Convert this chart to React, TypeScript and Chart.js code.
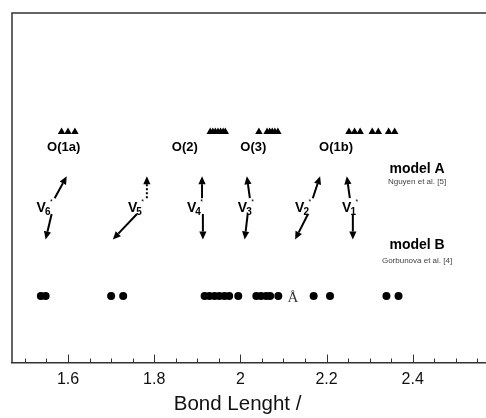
import React, { useEffect, useRef } from "react";
import { Chart, registerables } from "chart.js";

Chart.register(...registerables);

// ---- data ----
// model A (Nguyen et al.) bond lengths, drawn as triangles
const modelA = [
  1.585, 1.6, 1.616,
  1.93, 1.936, 1.942, 1.948, 1.954, 1.96, 1.965,
  2.043, 2.062, 2.068, 2.074, 2.08, 2.087,
  2.252, 2.265, 2.278, 2.306, 2.32, 2.344, 2.358,
];
// model B (Gorbunova et al.) bond lengths, drawn as dots
const modelB = [
  1.537, 1.548,
  1.7, 1.728,
  1.917, 1.928, 1.94, 1.951, 1.963, 1.974, 1.995,
  2.037, 2.048, 2.06, 2.069, 2.088,
  2.17, 2.208,
  2.339, 2.367,
];
const levelA = 66;
const levelB = 19;

const xMin = 1.47;
const xMax = 2.57;
const tickFirst = 1.5;
const tickLast = 2.55;
const minorStep = 0.05;

// oxygen site labels
const siteLabels = ["O(1a)", "O(2)", "O(3)", "O(1b)"];
const siteLabelX = [1.59, 1.871, 2.03, 2.222];
const siteLabelY = 61.6;

// V* labels
const vSubs = ["6", "5", "4", "3", "2", "1"];
const vLabelX = [1.527, 1.739, 1.876, 1.994, 2.127, 2.236];
const vLabelY = 44.1;

// arrows pointing towards model A
const upTailX = [1.569, 1.783, 1.911, 2.022, 2.168, 2.254];
const upHeadX = [1.597, 1.783, 1.911, 2.015, 2.185, 2.247];
const upDashed = [false, true, false, false, false, false];
const upTailY = 47.0;
const upHeadY = 53.3;

// arrows pointing towards model B
const downTailX = [1.562, 1.76, 1.913, 2.017, 2.157, 2.261];
const downHeadX = [1.548, 1.704, 1.913, 2.01, 2.127, 2.261];
const downTailY = 42.5;
const downHeadY = 35.2;

// model captions
const modelTexts = ["model A", "Nguyen et al. [5]", "model B", "Gorbunova et al. [4]"];
const modelTextBold = [true, false, true, false];
const modelTextX = 2.41;
const modelTextY = [55.3, 51.6, 33.5, 29.2];

const angstrom = "Å";
const angstromX = 2.122;
const angstromY = 18.3;

const SANS = '"Liberation Sans", Arial, sans-serif';
const SERIF = '"Liberation Serif", "Times New Roman", serif';

function isMult(v: number, step: number) {
  const r = v / step;
  return Math.abs(r - Math.round(r)) < 1e-6;
}

function drawArrow(ctx: CanvasRenderingContext2D, x1: number, y1: number, x2: number, y2: number, dashed: boolean) {
  const ang = Math.atan2(y2 - y1, x2 - x1);
  const hl = 8;
  const hw = 3.6;
  const bx = x2 - hl * Math.cos(ang);
  const by = y2 - hl * Math.sin(ang);
  ctx.save();
  ctx.strokeStyle = "#000";
  ctx.fillStyle = "#000";
  ctx.lineWidth = 2;
  if (dashed) ctx.setLineDash([2, 2]);
  ctx.beginPath();
  ctx.moveTo(x1, y1);
  ctx.lineTo(bx, by);
  ctx.stroke();
  ctx.setLineDash([]);
  ctx.beginPath();
  ctx.moveTo(x2, y2);
  ctx.lineTo(bx + hw * Math.sin(ang), by - hw * Math.cos(ang));
  ctx.lineTo(bx - hw * Math.sin(ang), by + hw * Math.cos(ang));
  ctx.closePath();
  ctx.fill();
  ctx.restore();
}

const annotPlugin = {
  id: "annot",
  afterDatasetsDraw(chart: any) {
    const { ctx, chartArea } = chart;
    const xs = chart.scales.x;
    const ys = chart.scales.y;
    ctx.save();
    // frame (left and top)
    ctx.strokeStyle = "#333";
    ctx.lineWidth = 1.5;
    ctx.beginPath();
    ctx.moveTo(chartArea.left, chartArea.bottom);
    ctx.lineTo(chartArea.left, chartArea.top);
    ctx.lineTo(chart.width, chartArea.top);
    ctx.stroke();
    // inward ticks
    ctx.lineWidth = 1;
    ctx.strokeStyle = "#333";
    xs.ticks.forEach((t: any) => {
      const v = t.value;
      if (!isMult(v, minorStep)) return;
      const px = Math.round(xs.getPixelForValue(v)) + 0.5;
      const len = isMult(v, 0.2) ? 8 : 4;
      ctx.beginPath();
      ctx.moveTo(px, chartArea.bottom);
      ctx.lineTo(px, chartArea.bottom - len);
      ctx.stroke();
    });

    ctx.fillStyle = "#000";
    ctx.textBaseline = "middle";
    // site labels
    ctx.font = `bold 13px ${SANS}`;
    ctx.textAlign = "center";
    siteLabels.forEach((s, i) => {
      ctx.fillText(s, xs.getPixelForValue(siteLabelX[i]), ys.getPixelForValue(siteLabelY));
    });
    // model captions
    modelTexts.forEach((s, i) => {
      ctx.font = modelTextBold[i] ? `bold 14px ${SANS}` : `8px ${SANS}`;
      ctx.fillStyle = modelTextBold[i] ? "#000" : "#444";
      ctx.fillText(s, xs.getPixelForValue(modelTextX), ys.getPixelForValue(modelTextY[i]));
    });
    // V labels
    ctx.fillStyle = "#000";
    ctx.textAlign = "left";
    vSubs.forEach((sub, i) => {
      const px = xs.getPixelForValue(vLabelX[i]);
      const py = ys.getPixelForValue(vLabelY);
      ctx.font = `bold 14px ${SANS}`;
      ctx.fillText("V", px, py);
      const w = ctx.measureText("V").width;
      ctx.font = `bold 10px ${SANS}`;
      ctx.fillText(sub, px + w - 1, py + 4);
      ctx.font = `7px ${SANS}`;
      ctx.fillText("*", px + w + 4, py - 6);
    });
    // arrows
    upTailX.forEach((_, i) => {
      drawArrow(
        ctx,
        xs.getPixelForValue(upTailX[i]), ys.getPixelForValue(upTailY),
        xs.getPixelForValue(upHeadX[i]), ys.getPixelForValue(upHeadY),
        upDashed[i]
      );
    });
    downTailX.forEach((_, i) => {
      drawArrow(
        ctx,
        xs.getPixelForValue(downTailX[i]), ys.getPixelForValue(downTailY),
        xs.getPixelForValue(downHeadX[i]), ys.getPixelForValue(downHeadY),
        false
      );
    });
    // stray angstrom sign
    ctx.font = `15px ${SERIF}`;
    ctx.fillStyle = "#333";
    ctx.textAlign = "center";
    ctx.fillText(angstrom, xs.getPixelForValue(angstromX), ys.getPixelForValue(angstromY));
    ctx.restore();
  },
};

export default function App() {
  const ref = useRef<HTMLCanvasElement | null>(null);
  useEffect(() => {
    if (!ref.current) return;
    const chart = new Chart(ref.current, {
      type: "scatter",
      data: {
        datasets: [
          {
            label: "model A",
            data: modelA.map((v) => ({ x: v, y: levelA })),
            pointStyle: "triangle",
            pointRadius: 4.3,
            borderWidth: 0,
            backgroundColor: "#000",
            borderColor: "#000",
          },
          {
            label: "model B",
            data: modelB.map((v) => ({ x: v, y: levelB })),
            pointStyle: "circle",
            pointRadius: 4,
            borderWidth: 0,
            backgroundColor: "#000",
            borderColor: "#000",
          },
        ],
      },
      options: {
        animation: false,
        responsive: false,
        layout: { autoPadding: false, padding: { left: 12, top: 13, right: 0, bottom: 0 } },
        plugins: { legend: { display: false }, tooltip: { enabled: false } },
        scales: {
          x: {
            type: "linear",
            min: xMin,
            max: xMax,
            afterBuildTicks: (scale: any) => {
              const n = Math.round((tickLast - tickFirst) / minorStep);
              const ticks: any[] = [];
              for (let i = 0; i <= n; i++) ticks.push({ value: Math.round((tickFirst + i * minorStep) * 1000) / 1000 });
              scale.ticks = ticks;
            },
            grid: { display: false, drawTicks: false },
            border: { display: true, color: "#333", width: 1.5 },
            ticks: {
              autoSkip: false,
              maxRotation: 0,
              padding: 7,
              color: "#111",
              font: { family: SANS, size: 16 },
              callback: (v: any) => {
                const n = Number(v);
                return isMult(n, 0.2) ? String(Math.round(n * 10) / 10) : "";
              },
            },
            title: {
              display: true,
              text: "Bond Lenght /    ",
              color: "#111",
              font: { family: SANS, size: 20.5, lineHeight: 0.6 },
              padding: { top: 2, bottom: 8 },
            },
          },
          y: { display: false, min: 0, max: 100 },
        },
      },
      plugins: [annotPlugin],
    });
    return () => chart.destroy();
  }, []);
  return (
    <div style={{ position: "fixed", left: 0, top: 0, width: 486, height: 418, background: "#fff" }}>
      <canvas ref={ref} width={486} height={418} style={{ display: "block" }} />
    </div>
  );
}
